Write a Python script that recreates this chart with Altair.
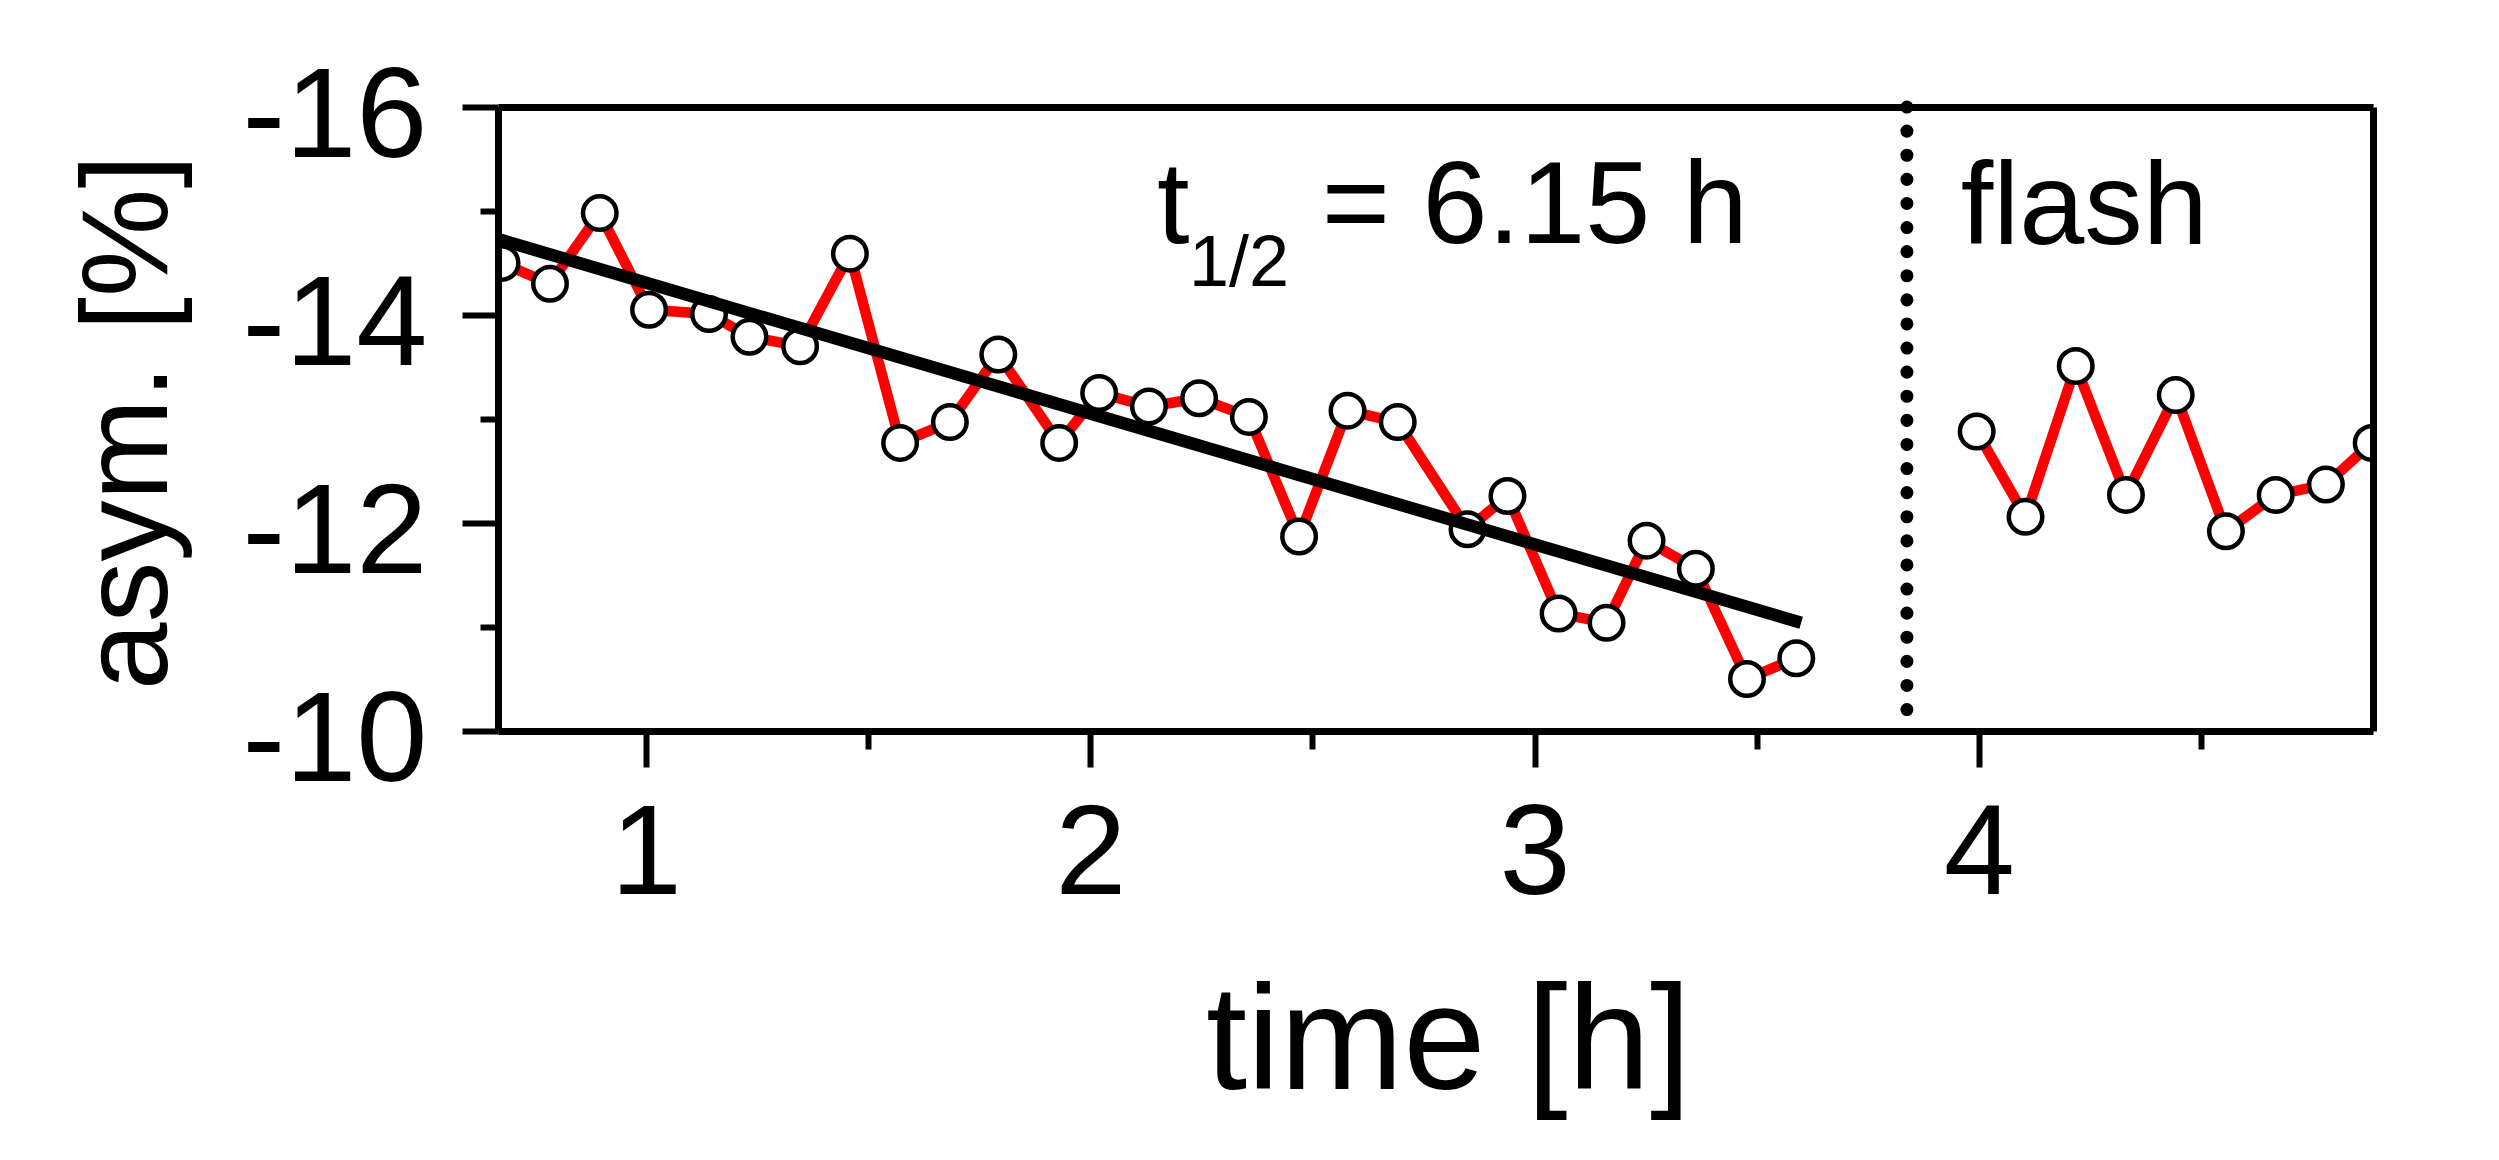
import altair as alt
import pandas as pd

# ---- data ----
main_t = [0.675, 0.784, 0.896, 1.007, 1.142, 1.233, 1.347, 1.459, 1.572, 1.684,
          1.793, 1.930, 2.020, 2.132, 2.245, 2.357, 2.470, 2.579, 2.692, 2.849,
          2.939, 3.054, 3.162, 3.252, 3.363, 3.478, 3.589]
main_a = [-14.50, -14.30, -14.98, -14.05, -14.01, -13.79, -13.70, -14.59, -12.77, -12.97,
          -13.62, -12.77, -13.25, -13.12, -13.20, -13.02, -11.87, -13.08, -12.97, -11.94,
          -12.26, -11.13, -11.04, -11.83, -11.56, -10.50, -10.70]
flash_t = [3.995, 4.105, 4.218, 4.331, 4.443, 4.556, 4.668, 4.781, 4.884]
flash_a = [-12.88, -12.06, -13.51, -12.27, -13.23, -11.92, -12.27, -12.37, -12.77]

fit_t = [0.667, 3.600]
fit_a = [-14.73, -11.04]

flash_time = [3.838]

label_t = [2.150, 2.521, 3.959]
label_a = [-14.69, -14.69, -14.68]
label_text = ["t", "= 6.15 h", "flash"]
sub_t = [2.222]
sub_a = [-14.28]
sub_text = ["1/2"]

x_domain = [0.667, 4.887]
y_domain = [-16, -10]
x_major = [1, 2, 3, 4]
x_minor = [1.5, 2.5, 3.5, 4.5]
y_major = [-16, -14, -12, -10]
y_minor = [-15, -13, -11]

FONT = "Liberation Sans"

pts = pd.DataFrame({
    "t": main_t + flash_t,
    "a": main_a + flash_a,
    "seg": ["decay"] * len(main_t) + ["flash"] * len(flash_t),
})
fit = pd.DataFrame({"t": fit_t, "a": fit_a})
vline = pd.DataFrame({"t": flash_time})
labels = pd.DataFrame({"t": label_t, "a": label_a, "txt": label_text})
subs = pd.DataFrame({"t": sub_t, "a": sub_a, "txt": sub_text})


def xs():
    return alt.Scale(domain=x_domain, nice=False, zero=False)


def ys():
    return alt.Scale(domain=y_domain, reverse=True, nice=False, zero=False)


x_axis = alt.Axis(values=x_major, orient="bottom", title="time [h]",
                  tickSize=36, tickWidth=6, tickColor="black",
                  domainWidth=7, domainColor="black", grid=False, zindex=1,
                  labelFontSize=128, labelFont=FONT, labelColor="black",
                  labelPadding=126, labelBaseline="alphabetic", labelAlign="center",
                  labelOverlap=False, labelFlush=False, labelLimit=0, format="d",
                  titleFontSize=148, titleFont=FONT, titleFontWeight="normal",
                  titleColor="black", titleBaseline="alphabetic", titleAlign="center",
                  titleX=950, titleY=357, titleLimit=0)
y_axis = alt.Axis(values=y_major, orient="left", title="asym. [%]",
                  tickSize=36, tickWidth=6, tickColor="black",
                  domainWidth=7, domainColor="black", grid=False, zindex=1,
                  labelFontSize=128, labelFont=FONT, labelColor="black",
                  labelPadding=35, labelBaseline="alphabetic", labelAlign="right",
                  labelOffset=49, labelOverlap=False, labelFlush=False, labelLimit=0,
                  labelExpr="'-' + abs(datum.value)",
                  titleFontSize=122, titleFont=FONT, titleFontWeight="normal",
                  titleColor="black", titleBaseline="alphabetic", titleAlign="center",
                  titleAngle=270, titleX=-332, titleY=315, titleLimit=0)

X = alt.X("t:Q", scale=xs(), axis=x_axis)
Y = alt.Y("a:Q", scale=ys(), axis=y_axis)
Xp = alt.X("t:Q", scale=xs())
Yp = alt.Y("a:Q", scale=ys())

red = alt.Chart(pts).mark_line(color="#ff0000", strokeWidth=10.5, clip=True).encode(
    x=X, y=Y, detail="seg:N")
circles = alt.Chart(pts).mark_point(shape="circle", size=1122, filled=False, fill="white",
                                    fillOpacity=1, stroke="black", strokeWidth=4.5,
                                    opacity=1, clip=True).encode(x=Xp, y=Yp)
fitline = alt.Chart(fit).mark_line(color="black", strokeWidth=12.5, clip=True).encode(
    x=Xp, y=Yp)
dots = alt.Chart(vline).mark_rule(color="black", strokeWidth=13, strokeDash=[0.1, 24],
                                  strokeCap="round").encode(x=Xp)
txt = alt.Chart(labels).mark_text(font=FONT, fontSize=117, align="left",
                                  baseline="alphabetic", color="black").encode(
    x=Xp, y=Yp, text="txt:N")
subtxt = alt.Chart(subs).mark_text(font=FONT, fontSize=72, align="left",
                                   baseline="alphabetic", color="black").encode(
    x=Xp, y=Yp, text="txt:N")

inner = alt.layer(red, circles, fitline, dots, txt, subtxt)

minor = alt.Chart(pts).mark_point(opacity=0).encode(
    x=alt.X("t:Q", scale=xs(),
            axis=alt.Axis(values=x_minor, orient="bottom", title=None, labels=False,
                          domain=False, grid=False, tickSize=18, tickWidth=6,
                          tickColor="black", zindex=1)),
    y=alt.Y("a:Q", scale=ys(),
            axis=alt.Axis(values=y_minor, orient="left", title=None, labels=False,
                          domain=False, grid=False, tickSize=18, tickWidth=6,
                          tickColor="black", zindex=1)),
)

frame = alt.Chart(pts).mark_point(opacity=0).encode(
    x=alt.X("t:Q", scale=xs(),
            axis=alt.Axis(orient="top", title=None, labels=False, ticks=False,
                          domain=True, domainWidth=7, domainColor="black",
                          grid=False, zindex=1)),
    y=alt.Y("a:Q", scale=ys(),
            axis=alt.Axis(orient="right", title=None, labels=False, ticks=False,
                          domain=True, domainWidth=7, domainColor="black",
                          grid=False, zindex=1)),
)

chart = alt.layer(inner, minor, frame).resolve_axis(
    x="independent", y="independent"
).properties(
    width=1875, height=624,
    padding={"left": 490, "top": 99, "right": 110, "bottom": 410},
    autosize=alt.AutoSizeParams(type="none"),
    background="white",
).configure_view(stroke=None)

chart.save("out.html", embed_options={"renderer": "svg", "actions": False})
